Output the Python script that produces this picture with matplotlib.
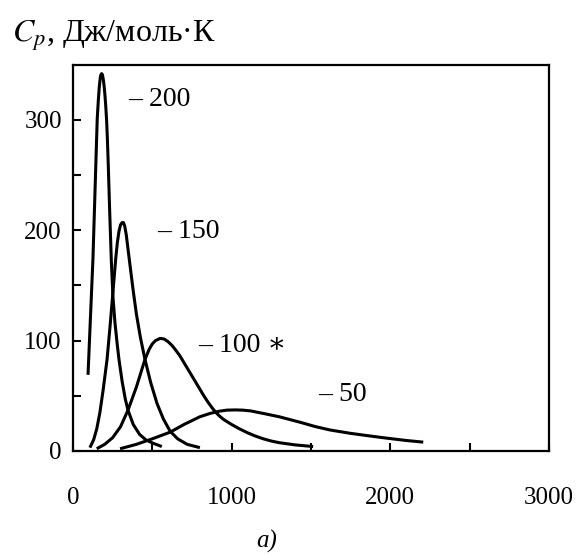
import matplotlib
matplotlib.use("Agg")
import matplotlib.pyplot as plt

plt.rcParams['font.family'] = ['Liberation Serif', 'DejaVu Serif']
plt.rcParams['mathtext.fontset'] = 'stix'

# curves: temperature (K) and Cp
t_200 = [95, 110, 126, 140, 153, 160, 166, 172, 176, 181, 186, 192, 197, 202, 207,
         212, 217, 222, 232, 242, 252, 265, 278, 290, 310, 330, 347, 380, 420, 460,
         505, 560]
c_200 = [69, 120, 174, 240, 301, 318, 330, 338, 341, 342, 341, 336, 330, 322, 312,
         300, 283, 262, 215, 172, 140, 116, 98, 83, 63, 47, 37, 24, 15, 10,
         7, 4]

t_150 = [107, 130, 150, 170, 190, 215, 235, 252, 270, 280, 290, 300, 310, 318, 326,
         336, 347, 360, 380, 400, 425, 454, 490, 530, 570, 612, 660, 720, 800]
c_150 = [3, 10, 20, 35, 55, 83, 115, 144, 175, 189, 199, 205, 207, 207, 204,
         196, 183, 168, 145, 124, 103, 83, 62, 43, 29, 18, 11, 6, 3]

t_100 = [150, 200, 250, 300, 347, 400, 454, 480, 500, 520, 549, 575, 600, 625, 650,
         675, 700, 725, 750, 775, 800, 825, 850, 875, 900, 925, 950, 1000,
         1050, 1100, 1150, 1200, 1250, 1300, 1400, 1514]
c_100 = [2, 6, 12, 22, 37, 58, 83, 92, 97, 100, 102, 101.5, 99, 95.5, 91,
         86, 80, 74, 68, 62, 56, 50, 44.5, 39.5, 35, 31.5, 28.5, 24,
         20, 16.5, 13.5, 11, 9, 7.5, 5.5, 4]

t_50 = [297, 400, 500, 612, 700, 800, 864, 920, 970, 1022, 1070, 1120, 1200, 1300,
        1432, 1530, 1621, 1748, 1850, 1956, 2100, 2208]
c_50 = [2, 6, 11, 17, 24, 31, 34, 36, 37, 37.2, 37, 36.3, 34, 31,
        26, 22, 19, 16, 14, 12, 9.5, 8]

curves = [(t_200, c_200), (t_150, c_150), (t_100, c_100), (t_50, c_50)]
labels = ['– 200', '– 150', '– 100 ∗', '– 50']
label_pos = [(347, 319), (530, 199), (789, 96), (1546, 51)]

fig = plt.figure(figsize=(5.79, 5.54), dpi=100)
ax = fig.add_axes([0.126, 0.186, 0.822, 0.697])

for t, c in curves:
    ax.plot(t, c, color='black', lw=2.2, solid_capstyle='butt',
            solid_joinstyle='round')

for txt, (x, y) in zip(labels, label_pos):
    ax.text(x, y, txt, fontsize=20, va='center', ha='left')

ax.set_xlim(0, 3000)
ax.set_ylim(0, 350)
ax.set_xticks([0, 500, 1000, 1500, 2000, 2500, 3000])
ax.set_xticklabels(['0', '', '1000', '', '2000', '', '3000'])
ax.set_yticks([0, 50, 100, 150, 200, 250, 300])
ax.set_yticklabels(['0', '', '100', '', '200', '', '300'])
ax.tick_params(axis='both', direction='in', length=6, width=1.5, labelsize=18)
ax.tick_params(axis='x', pad=26)
ax.tick_params(axis='y', pad=8)
for s in ax.spines.values():
    s.set_linewidth(1.6)

fig.text(0.021, 0.936, '$C_p$, Дж/моль·К', fontsize=23, va='center', ha='left')
fig.text(0.461, 0.022, 'a)', fontsize=18, style='italic', ha='center', va='center')

fig.savefig('out.png', dpi=100)
